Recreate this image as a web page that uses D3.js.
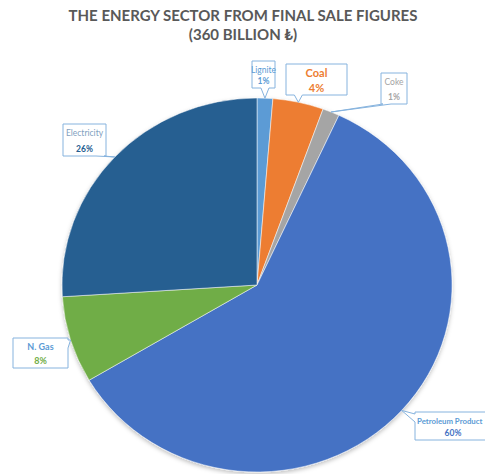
<!DOCTYPE html>
<html>
<head>
<meta charset="utf-8">
<script src="https://cdn.jsdelivr.net/npm/d3@7"></script>
<style>
  html, body { margin: 0; padding: 0; background: #fff; }
  svg { display: block; font-family: Lato, "Open Sans", sans-serif; }
</style>
</head>
<body>
<div id="chart"></div>
<script>
// share of final sales, percent
const categories = ["Lignite", "Coal", "Coke", "Petroleum Product", "N. Gas", "Electricity"];
const shares = [1.3, 4.2, 1.4, 59.6, 7.5, 26.0];
const sliceColors = ["#5B9BD5", "#ED7D31", "#A5A5A5", "#4472C4", "#70AD47", "#255E91"];
const titleLines = ["THE ENERGY SECTOR FROM FINAL SALE FIGURES", "(360 BILLION \u20BA)"];

const width = 485;
const height = 474;
const cx = 257, cy = 285;
const radius = 187;
const stretchX = 1.043; // the source picture is a bit wider than tall

// callout boxes (x, y, w, h) and text styling per label
const callouts = {
  "Lignite": { box: [252, 61, 23, 27], nameColor: "#5B9BD5", pctColor: "#5B9BD5", size: 8.5, nameBold: false },
  "Coal": { box: [286, 64, 61, 31], nameColor: "#ED7D31", pctColor: "#ED7D31", size: 11, nameBold: true },
  "Coke": { box: [381, 73, 26, 31], nameColor: "#A5A5A5", pctColor: "#A5A5A5", size: 8.5, nameBold: false },
  "Petroleum Product": { box: [415, 412, 76, 28], nameColor: "#5B9BD5", pctColor: "#4472C4", size: 8.5, nameSize: 7.8, nameBold: true, nameX: 417, nameAnchor: "start" },
  "N. Gas": { box: [13, 338, 55, 30], nameColor: "#5B9BD5", pctColor: "#70AD47", size: 9, nameBold: true },
  "Electricity": { box: [63, 124, 43, 32], nameColor: "#7F9FC0", pctColor: "#255E91", size: 8.5, nameBold: false }
};

const data = categories.map((c, i) => ({ name: c, value: shares[i], color: sliceColors[i] }));
const total = d3.sum(shares);

const svg = d3.select("#chart")
  .append("svg")
  .attr("width", width)
  .attr("height", height);

const defs = svg.append("defs");
const shadow = defs.append("filter")
  .attr("id", "shadow")
  .attr("x", "-10%").attr("y", "-10%")
  .attr("width", "120%").attr("height", "120%");
shadow.append("feDropShadow")
  .attr("dx", 0).attr("dy", 2)
  .attr("stdDeviation", 2)
  .attr("flood-color", "#000")
  .attr("flood-opacity", 0.25);

// title
svg.append("g")
  .selectAll("text")
  .data(titleLines)
  .join("text")
  .attr("x", 243)
  .attr("y", (d, i) => 21 + i * 19)
  .attr("text-anchor", "middle")
  .attr("font-size", 15)
  .attr("font-weight", "bold")
  .attr("fill", "#595959")
  .text(d => d);

const pie = d3.pie().sort(null).value(d => d.value);
const arcs = pie(data);
const arc = d3.arc().innerRadius(0).outerRadius(radius);

const pieG = svg.append("g")
  .attr("transform", `translate(${cx},${cy}) scale(${stretchX},1)`)
  .attr("filter", "url(#shadow)");

pieG.selectAll("path")
  .data(arcs)
  .join("path")
  .attr("d", arc)
  .attr("fill", d => d.data.color)
  .attr("stroke", "#fff")
  .attr("stroke-width", 0.5);

// callout shape: box with a wedge pointing at the slice edge
function calloutPath(x, y, w, h, tx, ty) {
  const half = 4, m = 2;
  const clamp = (v, a, b) => Math.max(a, Math.min(b, v));
  let side;
  if (ty > y + h) side = "bottom";
  else if (ty < y && tx >= x) side = "top";
  else if (tx > x + w) side = "right";
  else side = "left";
  if (side === "bottom") {
    const c = clamp(tx, x + half + m, x + w - half - m);
    return `M${x},${y}H${x + w}V${y + h}H${c + half}L${tx},${ty}L${c - half},${y + h}H${x}Z`;
  }
  if (side === "top") {
    const c = clamp(tx, x + half + m, x + w - half - m);
    return `M${x},${y}H${c - half}L${tx},${ty}L${c + half},${y}H${x + w}V${y + h}H${x}Z`;
  }
  if (side === "right") {
    const c = clamp(ty, y + half + m, y + h - half - m);
    return `M${x},${y}H${x + w}V${c - half}L${tx},${ty}L${x + w},${c + half}V${y + h}H${x}Z`;
  }
  const c = clamp(ty, y + half + m, y + h - half - m);
  return `M${x},${y}H${x + w}V${y + h}H${x}V${c + half}L${tx},${ty}L${x},${c - half}Z`;
}

const labels = svg.append("g")
  .selectAll("g")
  .data(arcs)
  .join("g");

labels.each(function (d) {
  const cfg = callouts[d.data.name];
  const [x, y, w, h] = cfg.box;
  const mid = (d.startAngle + d.endAngle) / 2;
  const tx = cx + stretchX * radius * Math.sin(mid);
  const ty = cy - radius * Math.cos(mid);
  const g = d3.select(this);

  g.append("path")
    .attr("d", calloutPath(x, y, w, h, tx, ty))
    .attr("fill", "#fff")
    .attr("stroke", "#86B3DE")
    .attr("stroke-width", 1);

  g.append("text")
    .attr("x", cfg.nameX != null ? cfg.nameX : x + w / 2)
    .attr("y", y + 9)
    .attr("dy", "0.35em")
    .attr("text-anchor", cfg.nameAnchor || "middle")
    .attr("font-size", cfg.nameSize || cfg.size)
    .attr("font-weight", cfg.nameBold ? "bold" : "normal")
    .attr("fill", cfg.nameColor)
    .text(d.data.name);

  g.append("text")
    .attr("x", x + w / 2)
    .attr("y", y + h - 7)
    .attr("dy", "0.35em")
    .attr("text-anchor", "middle")
    .attr("font-size", cfg.size)
    .attr("font-weight", "bold")
    .attr("fill", cfg.pctColor)
    .text(Math.round(d.data.value / total * 100) + "%");
});
</script>
</body>
</html>
